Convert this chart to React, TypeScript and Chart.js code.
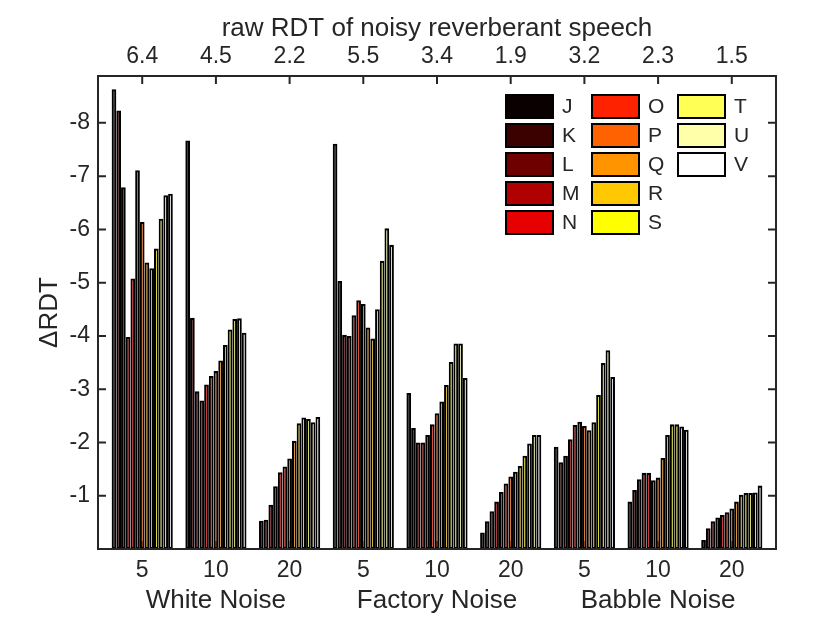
import React, { useEffect, useRef } from 'react';
import { Chart, registerables } from 'chart.js';

Chart.register(...registerables);

const FONT = '"Liberation Sans", Arial, Helvetica, sans-serif';
const INK = '#262626';

// x categories
const snrLabels = ['5', '10', '20', '5', '10', '20', '5', '10', '20'];
const noiseTypes = ['White Noise', 'Factory Noise', 'Babble Noise'];
const rawRdtLabels = ['6.4', '4.5', '2.2', '5.5', '3.4', '1.9', '3.2', '2.3', '1.5'];
const yTicks = [-8, -7, -6, -5, -4, -3, -2, -1];

// series (one value per condition)
const seriesNames = ['J', 'K', 'L', 'M', 'N', 'O', 'P', 'Q', 'R', 'S', 'T', 'U', 'V'];
const seriesColors = [
  '#0b0000', '#3b0000', '#6e0000', '#b00000', '#e60000', '#ff2200', '#ff6200',
  '#ff9400', '#ffc800', '#ffff00', '#ffff55', '#ffffaa', '#ffffff',
];

const J = [-8.63, -7.67, -0.53, -7.61, -2.93, -0.31, -1.92, -0.89, -0.17];
const K = [-8.23, -4.34, -0.55, -5.03, -2.27, -0.52, -1.63, -1.11, -0.39];
const L = [-6.79, -2.96, -0.83, -4.02, -2.0, -0.71, -1.75, -1.31, -0.52];
const M = [-3.98, -2.79, -1.18, -4.0, -2.0, -0.89, -2.06, -1.43, -0.59];
const N = [-5.08, -3.09, -1.44, -4.39, -2.14, -1.07, -2.33, -1.43, -0.64];
const O = [-7.11, -3.25, -1.55, -4.67, -2.34, -1.23, -2.39, -1.29, -0.69];
const P = [-6.14, -3.34, -1.7, -4.6, -2.55, -1.36, -2.31, -1.34, -0.76];
const Q = [-5.38, -3.54, -2.03, -4.16, -2.77, -1.45, -2.23, -1.71, -0.89];
const R = [-5.27, -3.83, -2.36, -3.95, -3.08, -1.56, -2.38, -2.14, -1.02];
const S = [-5.64, -4.12, -2.47, -4.5, -3.51, -1.75, -2.89, -2.34, -1.05];
const T = [-6.2, -4.32, -2.44, -5.41, -3.86, -1.98, -3.49, -2.34, -1.05];
const U = [-6.64, -4.33, -2.38, -6.02, -3.86, -2.14, -3.73, -2.3, -1.06];
const V = [-6.67, -4.06, -2.48, -5.71, -3.21, -2.14, -3.23, -2.24, -1.19];
const seriesValues = [J, K, L, M, N, O, P, Q, R, S, T, U, V];

const positions = snrLabels.map((_, i) => i + 1);
const groupCenters = noiseTypes.map((_, k) => k * 3 + 2);

const TICK_LEN = 8;

// box with inward ticks; the bottom ticks sit under the bars
const framePlugin = {
  id: 'frame',
  beforeDatasetsDraw(chart) {
    const { ctx, chartArea: a, scales } = chart;
    ctx.save();
    ctx.strokeStyle = INK;
    ctx.lineWidth = 2;
    ctx.beginPath();
    positions.forEach((v) => {
      const x = scales.x.getPixelForValue(v);
      ctx.moveTo(x, a.bottom);
      ctx.lineTo(x, a.bottom - TICK_LEN);
    });
    ctx.stroke();
    ctx.restore();
  },
  afterDraw(chart) {
    const { ctx, chartArea: a, scales } = chart;
    ctx.save();
    ctx.strokeStyle = INK;
    ctx.lineWidth = 2;
    ctx.strokeRect(a.left, a.top, a.right - a.left, a.bottom - a.top);
    ctx.beginPath();
    yTicks.forEach((v) => {
      const y = scales.y.getPixelForValue(v);
      ctx.moveTo(a.left, y);
      ctx.lineTo(a.left + TICK_LEN, y);
      ctx.moveTo(a.right, y);
      ctx.lineTo(a.right - TICK_LEN, y);
    });
    positions.forEach((v) => {
      const x = scales.x.getPixelForValue(v);
      ctx.moveTo(x, a.top);
      ctx.lineTo(x, a.top + TICK_LEN);
    });
    ctx.stroke();
    ctx.restore();
  },
};

// three-column legend in the upper right corner
const legendPlugin = {
  id: 'gridLegend',
  afterDraw(chart) {
    const { ctx, chartArea: a } = chart;
    ctx.save();
    ctx.font = `21px ${FONT}`;
    ctx.textBaseline = 'middle';
    ctx.textAlign = 'left';
    chart.data.datasets.forEach((ds, s) => {
      const col = Math.floor(s / 5);
      const row = s % 5;
      const x = a.right - 270 + col * 86;
      const y = a.top + 19 + row * 29;
      ctx.fillStyle = ds.backgroundColor;
      ctx.fillRect(x, y, 47, 23);
      ctx.strokeStyle = '#000';
      ctx.lineWidth = 2;
      ctx.strokeRect(x, y, 47, 23);
      ctx.fillStyle = INK;
      ctx.fillText(ds.label, x + 56, y + 12);
    });
    ctx.restore();
  },
};

const hidden = { grid: { display: false, drawTicks: false }, border: { display: false } };

const App = () => {
  const canvasRef = useRef(null);
  const chartRef = useRef(null);

  useEffect(() => {
    document.body.style.margin = '0';
    if (chartRef.current) chartRef.current.destroy();

    chartRef.current = new Chart(canvasRef.current, {
      type: 'bar',
      data: {
        datasets: seriesNames.map((name, s) => ({
          label: name,
          data: seriesValues[s].map((v, i) => ({ x: positions[i], y: v })),
          backgroundColor: seriesColors[s],
          borderColor: '#000',
          borderWidth: 2.05,
          borderSkipped: false,
          inflateAmount: 0,
          categoryPercentage: 0.83,
          barPercentage: 1,
        })),
      },
      options: {
        responsive: false,
        animation: false,
        layout: { padding: { left: 0, right: 54, top: 0, bottom: 0 } },
        plugins: { legend: { display: false }, tooltip: { enabled: false } },
        scales: {
          x: {
            type: 'linear',
            position: 'bottom',
            weight: 0,
            min: 0.4,
            max: 9.6,
            offset: false,
            ...hidden,
            afterBuildTicks: (sc) => {
              sc.ticks = positions.map((v) => ({ value: v }));
            },
            afterFit: (sc) => {
              sc.height = 36;
            },
            ticks: {
              autoSkip: false,
              maxRotation: 0,
              padding: 8,
              color: INK,
              font: { family: FONT, size: 23 },
              callback: (v) => snrLabels[v - 1],
            },
          },
          xGroup: {
            type: 'linear',
            position: 'bottom',
            weight: 1,
            min: 0.4,
            max: 9.6,
            offset: false,
            ...hidden,
            afterBuildTicks: (sc) => {
              sc.ticks = groupCenters.map((v) => ({ value: v }));
            },
            afterFit: (sc) => {
              sc.height = 38;
            },
            ticks: {
              autoSkip: false,
              maxRotation: 0,
              padding: 0,
              color: INK,
              font: { family: FONT, size: 26 },
              callback: (v) => noiseTypes[(v - 2) / 3],
            },
          },
          xTop: {
            type: 'linear',
            position: 'top',
            min: 0.4,
            max: 9.6,
            offset: false,
            ...hidden,
            afterBuildTicks: (sc) => {
              sc.ticks = positions.map((v) => ({ value: v }));
            },
            afterFit: (sc) => {
              sc.height = 76;
            },
            title: {
              display: true,
              text: 'raw RDT of noisy reverberant speech',
              color: INK,
              font: { family: FONT, size: 26 },
              padding: { top: 13, bottom: 0 },
            },
            ticks: {
              autoSkip: false,
              maxRotation: 0,
              padding: 6,
              color: INK,
              font: { family: FONT, size: 23 },
              callback: (v) => rawRdtLabels[v - 1],
            },
          },
          y: {
            type: 'linear',
            reverse: true,
            min: -8.88,
            max: 0,
            ...hidden,
            afterBuildTicks: (sc) => {
              sc.ticks = yTicks.map((v) => ({ value: v }));
            },
            afterFit: (sc) => {
              sc.width = 98;
            },
            title: {
              display: true,
              text: 'ΔRDT',
              color: INK,
              font: { family: FONT, size: 26 },
              padding: { top: 34, bottom: 0 },
            },
            ticks: {
              padding: 8,
              color: INK,
              font: { family: FONT, size: 23 },
              callback: (v) => String(v),
            },
          },
        },
      },
      plugins: [framePlugin, legendPlugin],
    });

    return () => {
      if (chartRef.current) {
        chartRef.current.destroy();
        chartRef.current = null;
      }
    };
  }, []);

  return (
    <div style={{ width: 830, height: 623, background: '#fff' }}>
      <canvas ref={canvasRef} width={830} height={623} style={{ display: 'block', width: 830, height: 623 }} />
    </div>
  );
};

export default App;
